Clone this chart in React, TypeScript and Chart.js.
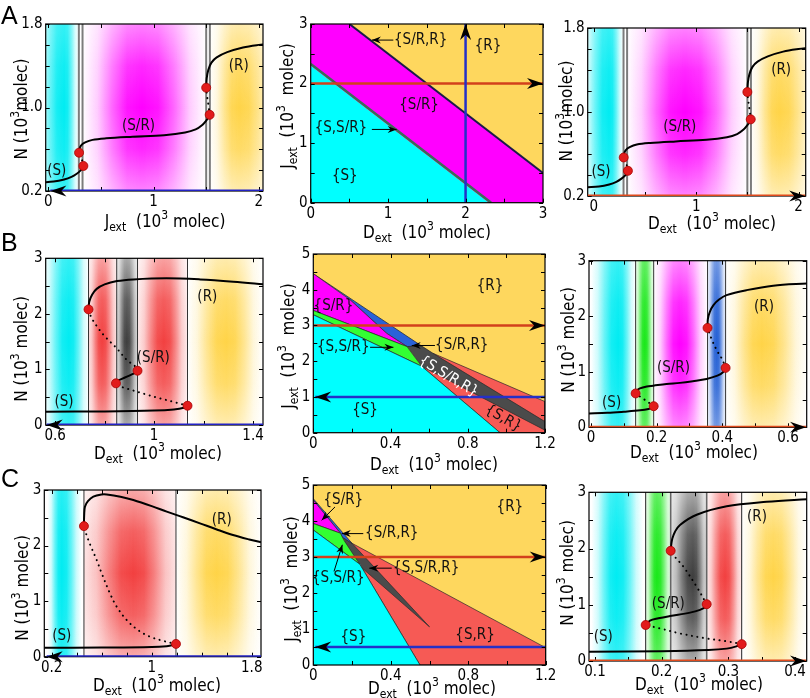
import React, { useEffect, useRef } from "react";
import { Chart, registerables } from "chart.js";
Chart.register(...registerables);

const FONT = "'DejaVu Sans Condensed', 'DejaVu Sans', sans-serif";
const W = 810, H = 698;
const Y_AXIS_W = 40, X_AXIS_H = 22;

// ---------------- Panel A (left: J sweep, right: D sweep) ----------------
const aLowerS = [[-0.06, 0.283], [0.05, 0.29], [0.15, 0.31], [0.22, 0.335], [0.27, 0.365], [0.305, 0.395], [0.325, 0.42], [0.333, 0.44]];
const aUnstable1 = [[0.333, 0.44], [0.322, 0.49], [0.302, 0.54], [0.292, 0.567]];
const aMiddleSR = [[0.292, 0.567], [0.295, 0.6], [0.31, 0.635], [0.35, 0.665], [0.42, 0.69], [0.55, 0.705], [0.8, 0.72], [1.1, 0.735], [1.3, 0.76], [1.4, 0.79], [1.46, 0.83], [1.5, 0.875], [1.525, 0.91], [1.533, 0.93]];
const aUnstable2 = [[1.533, 0.93], [1.525, 1.0], [1.51, 1.1], [1.5, 1.19]];
const aUpperR = [[1.5, 1.19], [1.505, 1.28], [1.52, 1.36], [1.55, 1.43], [1.6, 1.48], [1.7, 1.53], [1.85, 1.575], [2.0, 1.6], [2.1, 1.61]];
const aFolds = [[0.292, 0.567], [0.333, 0.44], [1.5, 1.19], [1.533, 0.93]];
const aSwitchLines = [0.29, 0.325, 1.5, 1.535];
const aLeftSweep = [[2.04, 0.2], [0.02, 0.2]];
const aRightSweep = [[-0.06, 0.2], [2.065, 0.2]];
const aTicksX = [0, 0.5, 1, 1.5, 2];
const aLabelsX = ["0", "", "1", "", "2"];
const aTicksY = [0.2, 0.4, 0.6, 0.8, 1.0, 1.2, 1.4, 1.6, 1.8];
const aLabelsY = ["0.2", "", "", "", "1.0", "", "", "", "1.8"];

// Panel A middle (phase diagram)
const amRegionR = [[0, 0], [0, 3], [3, 3], [3, 0]];
const amRegionSR = [[0, 2.3], [0, 3], [0.5, 3], [3, 0.5], [3, 0], [2.3, 0]];
const amRegionS = [[0, 0], [0, 2.3], [2.3, 0]];
const amBoundaryLow = [[0, 2.33], [2.33, 0]];
const amBoundaryHigh = [[0.5, 3], [3, 0.5]];
const amSweepD = [[0, 2], [3, 2]];
const amSweepJ = [[2, 0], [2, 3]];
const amTicks = [0, 0.5, 1, 1.5, 2, 2.5, 3];
const amLabels = ["0", "", "1", "", "2", "", "3"];

// ---------------- Panel B ----------------
const bLowerS = [[0.56, 0.24], [0.8, 0.245], [1.0, 0.26], [1.08, 0.28], [1.12, 0.31], [1.135, 0.347]];
const bUnstable1 = [[1.135, 0.347], [1.092, 0.4], [1.024, 0.48], [0.96, 0.56], [0.916, 0.62], [0.872, 0.68], [0.85, 0.71], [0.846, 0.75]];
const bMiddleSR = [[0.846, 0.75], [0.85, 0.79], [0.87, 0.83], [0.89, 0.87], [0.91, 0.91], [0.925, 0.94], [0.933, 0.977]];
const bUnstable2 = [[0.933, 0.977], [0.925, 1.05], [0.89, 1.17], [0.849, 1.38], [0.8, 1.6], [0.765, 1.8], [0.745, 1.95], [0.735, 2.08]];
const bUpperR = [[0.735, 2.08], [0.738, 2.22], [0.75, 2.35], [0.768, 2.45], [0.8, 2.53], [0.85, 2.59], [0.916, 2.62], [1.05, 2.64], [1.186, 2.62], [1.32, 2.58], [1.45, 2.53]];
const bFolds = [[0.735, 2.08], [0.846, 0.75], [0.933, 0.977], [1.135, 0.347]];
const bSwitchLines = [0.735, 0.849, 0.933, 1.135];
const bSweep = [[1.44, 0], [0.566, 0]];
const bTicksX = [0.6, 0.8, 1.0, 1.2, 1.4];
const bLabelsX = ["0.6", "", "1", "", "1.4"];
const nTicksY = [0, 0.5, 1, 1.5, 2, 2.5, 3];
const nLabelsY = ["0", "", "1", "", "2", "", "3"];

// Panel B middle
const bmRegionR = [[0, 0], [0, 5], [1.2, 5], [1.2, 0]];
const bmRegionSR_R = [[0.62, 2.22], [1.2, 0.87], [1.2, 0], [0.967, 0], [0.561, 1.86]];
const bmRegionAll = [[0.485, 2.41], [0.56, 2.43], [0.62, 2.22], [1.2, 0.31], [1.2, 0.07], [0.561, 1.86]];
const bmRegionSRR = [[0, 4.45], [0.56, 2.43], [0.485, 2.41], [0.38, 2.78], [0.19, 3.72]];
const bmRegionSRonly = [[0, 4.45], [0.19, 3.72], [0.38, 2.78], [0.485, 2.41], [0, 3.42]];
const bmRegionSSR = [[0, 3.42], [0.485, 2.41], [0.561, 1.86], [0, 3.3]];
const bmRegionS = [[0, 0], [0, 3.3], [0.561, 1.86], [0.967, 0]];
const bmSweepD = [[0, 3], [1.2, 3]];
const bmSweepJ = [[1.2, 1], [0.01, 1]];
const mTicksX = [0, 0.2, 0.4, 0.6, 0.8, 1.0, 1.2];
const mLabelsX = ["0", "", "0.4", "", "0.8", "", "1.2"];
const mTicksY = [0, 0.5, 1, 1.5, 2, 2.5, 3, 3.5, 4, 4.5, 5];
const mLabelsY = ["0", "", "1", "", "2", "", "3", "", "4", "", "5"];

// Panel B right
const brLowerS = [[-0.01, 0.25], [0.05, 0.26], [0.1, 0.28], [0.15, 0.305], [0.175, 0.33], [0.188, 0.36], [0.191, 0.38]];
const brUnstable1 = [[0.191, 0.38], [0.17, 0.47], [0.15, 0.55], [0.136, 0.61]];
const brMiddleSR = [[0.136, 0.61], [0.14, 0.66], [0.149, 0.7], [0.17, 0.735], [0.19, 0.75], [0.23, 0.78], [0.271, 0.8], [0.31, 0.83], [0.352, 0.87], [0.385, 0.93], [0.402, 0.99], [0.41, 1.07]];
const brUnstable2 = [[0.41, 1.07], [0.4, 1.22], [0.383, 1.39], [0.368, 1.58], [0.355, 1.79]];
const brUpperR = [[0.355, 1.79], [0.356, 1.95], [0.362, 2.08], [0.373, 2.2], [0.39, 2.3], [0.413, 2.38], [0.474, 2.47], [0.555, 2.55], [0.66, 2.59]];
const brFolds = [[0.136, 0.61], [0.191, 0.38], [0.355, 1.79], [0.41, 1.07]];
const brSwitchLines = [0.136, 0.191, 0.355, 0.41];
const brSweep = [[-0.006, 0], [0.655, 0]];
const brTicksX = [0, 0.1, 0.2, 0.3, 0.4, 0.5, 0.6];
const brLabelsX = ["0", "", "0.2", "", "0.4", "", "0.6"];

// ---------------- Panel C ----------------
const cLowerS = [[0.14, 0.16], [0.6, 0.165], [1.0, 0.175], [1.12, 0.19], [1.17, 0.21], [1.194, 0.23]];
const cUnstable = [[1.194, 0.23], [1.1, 0.28], [0.986, 0.36], [0.89, 0.48], [0.8, 0.66], [0.72, 0.9], [0.666, 1.14], [0.6, 1.5], [0.56, 1.74], [0.52, 1.95], [0.493, 2.1], [0.47, 2.25], [0.458, 2.35]];
const cUpperR = [[0.458, 2.35], [0.46, 2.55], [0.466, 2.7], [0.49, 2.8], [0.533, 2.88], [0.6, 2.92], [0.64, 2.92], [0.75, 2.88], [0.853, 2.82], [1.0, 2.71], [1.12, 2.61], [1.25, 2.51], [1.386, 2.4], [1.52, 2.29], [1.65, 2.19], [1.78, 2.11], [1.874, 2.06]];
const cFolds = [[0.458, 2.35], [1.194, 0.23]];
const cSwitchLines = [0.458, 1.194];
const cSweep = [[1.874, 0], [0.16, 0]];
const cTicksX = [0.2, 0.4, 0.6, 0.8, 1.0, 1.2, 1.4, 1.6, 1.8];
const cLabelsX = ["0.2", "", "", "", "1", "", "", "", "1.8"];

// Panel C middle
const cmRegionR = [[0, 0], [0, 5], [1.2, 5], [1.2, 0]];
const cmRegionSR_R = [[0.2, 3.38], [1.2, 0.48], [1.2, 0], [0.551, 0], [0.24, 2.8]];
const cmRegionAll = [[0.15, 3.55], [0.2, 3.38], [0.6, 1.06], [0.24, 2.75], [0.16, 3.45]];
const cmRegionSRR = [[0, 4.62], [0.2, 3.38], [0.15, 3.55], [0.14, 3.66], [0, 4.58]];
const cmRegionSRonly = [[0, 4.58], [0.14, 3.66], [0, 3.93]];
const cmRegionSSR = [[0, 3.93], [0.14, 3.66], [0.15, 3.55], [0.16, 3.45], [0.24, 2.8], [0, 3.75]];
const cmRegionS = [[0, 0], [0, 3.75], [0.24, 2.8], [0.551, 0]];
const cmSweepD = [[0, 3], [1.2, 3]];
const cmSweepJ = [[1.2, 0.5], [0.01, 0.5]];

// Panel C right
const crLowerS = [[0.09, 0.165], [0.2, 0.175], [0.27, 0.195], [0.2975, 0.22], [0.312, 0.26], [0.32, 0.3]];
const crUnstable1 = [[0.32, 0.3], [0.2975, 0.35], [0.2675, 0.4], [0.2275, 0.49], [0.1975, 0.58], [0.176, 0.64]];
const crMiddleSR = [[0.176, 0.64], [0.1825, 0.72], [0.195, 0.76], [0.2125, 0.8], [0.2425, 0.86], [0.2575, 0.91], [0.2655, 0.96], [0.2675, 1.01]];
const crUnstable2 = [[0.2675, 1.01], [0.2525, 1.32], [0.2325, 1.68], [0.22, 1.85], [0.2135, 1.96]];
const crUpperR = [[0.2135, 1.96], [0.2145, 2.08], [0.216, 2.18], [0.22, 2.3], [0.2275, 2.42], [0.2525, 2.6], [0.2975, 2.75], [0.3575, 2.83], [0.42, 2.88]];
const crFolds = [[0.176, 0.64], [0.2135, 1.96], [0.2675, 1.01], [0.32, 0.3]];
const crSwitchLines = [0.176, 0.2135, 0.2675, 0.32];
const crSweep = [[0.091, 0], [0.4165, 0]];
const crTicksX = [0.1, 0.15, 0.2, 0.25, 0.3, 0.35, 0.4];
const crLabelsX = ["0.1", "", "0.2", "", "0.3", "", "0.4"];

// ---------------- colours ----------------
const CYAN = [0, 236, 242], MAGENTA = [255, 0, 255], YELLOW = [255, 212, 72], RED = [242, 64, 64], GRAY = [62, 62, 62], GREEN = [25, 232, 25], BLUE = [35, 95, 212];
const F_CYAN = "#00ffff", F_MAG = "#ff00ff", F_YEL = "#fed75e", F_RED = "#f65a55", F_DARK = "#4b4b4b", F_GREEN = "#33ff33", F_BLUE = "#2a62d8";
const SWEEP_BLUE = "#2222c4", SWEEP_RED = "#e04a1c";

const P = (a: number[][]) => a.map(([x, y]) => ({ x, y }));
const solid = (a: number[][]) => ({ data: P(a), showLine: true, borderColor: "#000", borderWidth: 2, pointRadius: 0, tension: 0.35, fill: false });
const dotted = (a: number[][]) => ({ ...solid(a), borderWidth: 2, borderDash: [0.1, 5.5], borderCapStyle: "round" });
const folds = (a: number[][]) => ({ data: P(a), showLine: false, pointRadius: 4.5, pointBackgroundColor: "#e21c1c", pointBorderColor: "#a80000", pointBorderWidth: 0.8 });
const straight = (a: number[][], color: string, w: number) => ({ data: P(a), showLine: true, borderColor: color, borderWidth: w, pointRadius: 0, tension: 0, fill: false });
const region = (a: number[][], color: string, border: boolean) => ({ data: P(a), showLine: true, fill: "shape", backgroundColor: color, borderColor: border ? "#2a2a2a" : "rgba(0,0,0,0)", borderWidth: border ? 0.7 : 1, pointRadius: 0, tension: 0 });

const xt = (L: string) => [{ t: L, s: 17 }, { t: "ext", s: 12, dy: 4 }, { t: "  (10", s: 17 }, { t: "3", s: 12, dy: -8 }, { t: " molec)", s: 17 }];
const ytN = (sp: boolean) => [{ t: "N (10", s: 17 }, { t: "3", s: 12, dy: -8 }, { t: sp ? " molec)" : "molec)", s: 17 }];
const ytJ = [{ t: "J", s: 17 }, { t: "ext", s: 12, dy: 4 }, { t: "  (10", s: 17 }, { t: "3", s: 12, dy: -8 }, { t: "  molec)", s: 17 }];

// band: [x0, x1, centre, rgb, verticalFade, edgeAlpha]
const aBands = [[-0.12, 0.29, 0.15, CYAN, 0.2, 0], [0.325, 1.5, 0.89, MAGENTA, 0.5, 0], [1.535, 2.2, 1.81, YELLOW, 0.55, 0]];
const bBands = [[0.55, 0.735, 0.655, CYAN, 0.2, 0], [0.735, 0.849, 0.79, RED, 0.5, 0.15], [0.849, 0.933, 0.89, GRAY, 0.55, 0.2], [0.933, 1.135, 1.04, RED, 0.5, 0.1], [1.135, 1.44, 1.29, YELLOW, 0.55, 0]];
const brBands = [[0.0, 0.136, 0.083, CYAN, 0.2, 0], [0.136, 0.191, 0.164, GREEN, 0.3, 0.1], [0.191, 0.355, 0.271, MAGENTA, 0.5, 0], [0.355, 0.41, 0.383, BLUE, 0.35, 0.1], [0.41, 0.66, 0.52, YELLOW, 0.55, 0]];
const cBands = [[0.17, 0.44, 0.28, CYAN, 0.15, 0], [0.458, 1.194, 0.853, RED, 0.55, 0.15], [1.194, 1.874, 1.52, YELLOW, 0.55, 0]];
const crBands = [[0.095, 0.172, 0.1325, CYAN, 0.2, 0], [0.176, 0.2135, 0.193, GREEN, 0.3, 0.1], [0.2135, 0.2675, 0.247, GRAY, 0.55, 0.2], [0.2675, 0.32, 0.295, RED, 0.5, 0.1], [0.32, 0.4175, 0.3675, YELLOW, 0.55, 0]];

const vl = (xs: number[], color: string, w: number) => xs.map((x) => ({ x, color, w }));

const panels: any[] = [
  {
    plot: [45.7, 24, 263, 191],
    x: { min: -0.025, max: 2.04, ticks: aTicksX, labels: aLabelsX },
    y: { min: 0.2, max: 1.8, ticks: aTicksY, labels: aLabelsY },
    bands: aBands, vlines: vl(aSwitchLines, "#7c7c7c", 2),
    datasets: [solid(aLowerS), dotted(aUnstable1), solid(aMiddleSR), dotted(aUnstable2), solid(aUpperR), straight(aLeftSweep, SWEEP_BLUE, 3), folds(aFolds)],
    arrows: [{ at: aLeftSweep[1], dir: "left" }],
    texts: [{ t: "(S)", x: 0.08, y: 0.39 }, { t: "(S/R)", x: 0.857, y: 0.82 }, { t: "(R)", x: 1.81, y: 1.4 }],
    xTitle: { parts: xt("J"), cx: 165, by: 227 }, yTitle: { parts: ytN(false), bx: 27, cy: 109 },
    letter: { t: "A", x: 1, y: 23.5 },
  },
  {
    plot: [310.7, 24, 543, 202.7], frameOnTop: true,
    x: { min: 0, max: 3, ticks: amTicks, labels: amLabels },
    y: { min: 0, max: 3, ticks: amTicks, labels: amLabels },
    datasets: [region(amRegionR, F_YEL, false), region(amRegionSR, F_MAG, false), region(amRegionS, F_CYAN, false), straight(amBoundaryLow, "#3c6a58", 2.6), straight(amBoundaryHigh, "#1a1a4a", 2), straight(amSweepD, "#d2401c", 2.5), straight(amSweepJ, "#2430c8", 2.5)],
    arrows: [{ at: amSweepD[1], dir: "right" }, { at: amSweepJ[1], dir: "up" }],
    pointers: [{ from: [1.067, 2.73], to: [0.79, 2.73] }, { from: [0.79, 1.23], to: [1.11, 1.23] }],
    texts: [{ t: "{S/R,R}", x: 1.42, y: 2.73 }, { t: "{R}", x: 2.29, y: 2.63 }, { t: "{S/R}", x: 1.4, y: 1.64 }, { t: "{S,S/R}", x: 0.39, y: 1.25 }, { t: "{S}", x: 0.44, y: 0.44 }],
    xTitle: { parts: xt("D"), cx: 427, by: 238 }, yTitle: { parts: ytJ, bx: 293, cy: 106 },
  },
  {
    plot: [587.7, 28, 805.7, 196],
    x: { min: -0.06, max: 2.07, ticks: aTicksX, labels: aLabelsX },
    y: { min: 0.2, max: 1.8, ticks: aTicksY, labels: aLabelsY },
    bands: aBands, vlines: vl(aSwitchLines, "#7c7c7c", 2),
    datasets: [solid(aLowerS), dotted(aUnstable1), solid(aMiddleSR), dotted(aUnstable2), solid(aUpperR), straight(aRightSweep, SWEEP_RED, 3), folds(aFolds)],
    arrows: [{ at: aRightSweep[1], dir: "right" }],
    texts: [{ t: "(S)", x: 0.07, y: 0.43 }, { t: "(S/R)", x: 0.84, y: 0.86 }, { t: "(R)", x: 1.83, y: 1.4 }],
    xTitle: { parts: xt("D"), cx: 712, by: 229 }, yTitle: { parts: ytN(false), bx: 572, cy: 111 },
  },
  {
    plot: [45.7, 258.3, 263, 425],
    x: { min: 0.562, max: 1.44, ticks: bTicksX, labels: bLabelsX },
    y: { min: 0, max: 3, ticks: nTicksY, labels: nLabelsY },
    bands: bBands, vlines: vl(bSwitchLines, "#333", 1),
    datasets: [solid(bLowerS), dotted(bUnstable1), solid(bMiddleSR), dotted(bUnstable2), solid(bUpperR), straight(bSweep, SWEEP_BLUE, 3), folds(bFolds)],
    arrows: [{ at: bSweep[1], dir: "left" }],
    texts: [{ t: "(S)", x: 0.636, y: 0.42 }, { t: "(S/R)", x: 0.997, y: 1.2 }, { t: "(R)", x: 1.215, y: 2.31 }],
    xTitle: { parts: xt("D"), cx: 158, by: 459 }, yTitle: { parts: ytN(true), bx: 27, cy: 349 },
    letter: { t: "B", x: 1, y: 250.7 },
  },
  {
    plot: [313.3, 254, 545, 432.7], frameOnTop: true,
    x: { min: 0, max: 1.2, ticks: mTicksX, labels: mLabelsX },
    y: { min: 0, max: 5, ticks: mTicksY, labels: mLabelsY },
    datasets: [region(bmRegionR, F_YEL, false), region(bmRegionSR_R, F_RED, true), region(bmRegionAll, F_DARK, true), region(bmRegionSRR, F_BLUE, true), region(bmRegionSRonly, F_MAG, true), region(bmRegionSSR, F_GREEN, true), region(bmRegionS, F_CYAN, true), straight(bmSweepD, "#d2401c", 2.5), straight(bmSweepJ, "#2430c8", 2.5)],
    arrows: [{ at: bmSweepD[1], dir: "right" }, { at: bmSweepJ[1], dir: "left" }],
    pointers: [{ from: [0.294, 2.39], to: [0.415, 2.39] }, { from: [0.63, 2.44], to: [0.51, 2.44] }],
    texts: [{ t: "{R}", x: 0.915, y: 4.09 }, { t: "{S/R}", x: 0.104, y: 3.55 }, { t: "{S,S/R}", x: 0.155, y: 2.39 }, { t: "{S/R,R}", x: 0.769, y: 2.44 }, { t: "{S,S/R,R}", x: 0.7, y: 1.57, rot: 31, color: "#fff" }, { t: "{S,R}", x: 0.984, y: 0.4, rot: 30 }, { t: "{S}", x: 0.268, y: 0.64 }],
    xTitle: { parts: xt("D"), cx: 434, by: 470 }, yTitle: { parts: ytJ, bx: 294, cy: 346 },
  },
  {
    plot: [589, 260.7, 806.7, 427.3],
    x: { min: -0.006, max: 0.657, ticks: brTicksX, labels: brLabelsX },
    y: { min: 0, max: 3, ticks: nTicksY, labels: nLabelsY },
    bands: brBands, vlines: vl(brSwitchLines, "#333", 1),
    datasets: [solid(brLowerS), dotted(brUnstable1), solid(brMiddleSR), dotted(brUnstable2), solid(brUpperR), straight(brSweep, SWEEP_RED, 3), folds(brFolds)],
    arrows: [{ at: brSweep[1], dir: "right" }],
    texts: [{ t: "(S)", x: 0.063, y: 0.44 }, { t: "(S/R)", x: 0.251, y: 1.06 }, { t: "(R)", x: 0.527, y: 2.17 }],
    xTitle: { parts: xt("D"), cx: 694, by: 458 }, yTitle: { parts: ytN(true), bx: 574, cy: 340 },
  },
  {
    plot: [44.3, 490, 261, 656.7],
    x: { min: 0.141, max: 1.874, ticks: cTicksX, labels: cLabelsX },
    y: { min: 0, max: 3, ticks: nTicksY, labels: nLabelsY },
    bands: cBands, vlines: vl(cSwitchLines, "#333", 1),
    datasets: [solid(cLowerS), dotted(cUnstable), solid(cUpperR), straight(cSweep, SWEEP_BLUE, 3), folds(cFolds)],
    arrows: [{ at: cSweep[1], dir: "left" }],
    texts: [{ t: "(S)", x: 0.28, y: 0.37 }, { t: "(R)", x: 1.56, y: 2.46 }],
    xTitle: { parts: xt("D"), cx: 157, by: 691 }, yTitle: { parts: ytN(true), bx: 28, cy: 588 },
    letter: { t: "C", x: 1, y: 486.7 },
  },
  {
    plot: [313.3, 485, 545.7, 665], frameOnTop: true,
    x: { min: 0, max: 1.2, ticks: mTicksX, labels: mLabelsX },
    y: { min: 0, max: 5, ticks: mTicksY, labels: mLabelsY },
    datasets: [region(cmRegionR, F_YEL, false), region(cmRegionSR_R, F_RED, true), region(cmRegionAll, F_DARK, true), region(cmRegionSRR, F_BLUE, true), region(cmRegionSRonly, F_MAG, true), region(cmRegionSSR, F_GREEN, true), region(cmRegionS, F_CYAN, true), straight(cmSweepD, "#d2401c", 2.5), straight(cmSweepJ, "#2430c8", 2.5)],
    arrows: [{ at: cmSweepD[1], dir: "right" }, { at: cmSweepJ[1], dir: "left" }],
    pointers: [{ from: [0.112, 4.39], to: [0.043, 4.02] }, { from: [0.258, 3.65], to: [0.147, 3.65] }, { from: [0.405, 2.69], to: [0.289, 2.69] }, { from: [0.107, 2.6], to: [0.15, 3.34] }],
    texts: [{ t: "{S/R}", x: 0.155, y: 4.57 }, { t: "{R}", x: 1.015, y: 4.39 }, { t: "{S/R,R}", x: 0.405, y: 3.65 }, { t: "{S,S/R,R}", x: 0.583, y: 2.68 }, { t: "{S,S/R}", x: 0.129, y: 2.4 }, { t: "{S}", x: 0.207, y: 0.78 }, { t: "{S,R}", x: 0.835, y: 0.82 }],
    xTitle: { parts: xt("D"), cx: 432, by: 694 }, yTitle: { parts: ytJ, bx: 297, cy: 579 },
  },
  {
    plot: [589, 492.3, 806.7, 661],
    x: { min: 0.091, max: 0.4175, ticks: crTicksX, labels: crLabelsX },
    y: { min: 0, max: 3, ticks: nTicksY, labels: nLabelsY },
    bands: crBands, vlines: [{ x: crSwitchLines[0], color: "#222", w: 1 }, { x: crSwitchLines[1], color: "#666", w: 1.6 }, { x: crSwitchLines[2], color: "#666", w: 1.6 }, { x: crSwitchLines[3], color: "#222", w: 1 }],
    datasets: [solid(crLowerS), dotted(crUnstable1), solid(crMiddleSR), dotted(crUnstable2), solid(crUpperR), straight(crSweep, SWEEP_RED, 3), folds(crFolds)],
    arrows: [{ at: crSweep[1], dir: "right" }],
    texts: [{ t: "(S)", x: 0.1125, y: 0.43 }, { t: "(S/R)", x: 0.21, y: 1.01 }, { t: "(R)", x: 0.343, y: 2.56 }],
    xTitle: { parts: xt("D"), cx: 699, by: 690 }, yTitle: { parts: ytN(true), bx: 573, cy: 573 },
  },
];

const rgba = (c: number[], a: number) => `rgba(${c[0]},${c[1]},${c[2]},${Math.max(0, Math.min(1, a))})`;
const PROF = [0, 0.2, 0.6, 0.92, 1];
const TPOS = [0, 0.25, 0.5, 0.75, 1];

function drawBand(ctx: CanvasRenderingContext2D, ca: any, xs: any, b: any[]) {
  const [x0, x1, cx, rgb, vf, edge] = b;
  const p0 = xs.getPixelForValue(x0), p1 = xs.getPixelForValue(x1), pc = xs.getPixelForValue(cx);
  const fc = (pc - p0) / (p1 - p0);
  ctx.save();
  ctx.beginPath();
  ctx.rect(ca.left, ca.top, ca.right - ca.left, ca.bottom - ca.top);
  ctx.clip();
  const g = ctx.createLinearGradient(p0, 0, p1, 0);
  for (let i = 0; i < 5; i++) g.addColorStop(TPOS[i] * fc, rgba(rgb, edge + (1 - edge) * PROF[i]));
  for (let i = 3; i >= 0; i--) g.addColorStop(fc + (1 - TPOS[i]) * (1 - fc), rgba(rgb, edge + (1 - edge) * PROF[i]));
  ctx.fillStyle = g;
  ctx.fillRect(p0, ca.top, p1 - p0, ca.bottom - ca.top);
  const v = ctx.createLinearGradient(0, ca.top, 0, ca.bottom);
  v.addColorStop(0, `rgba(255,255,255,${vf})`);
  v.addColorStop(0.25, `rgba(255,255,255,${vf * 0.3})`);
  v.addColorStop(0.5, "rgba(255,255,255,0)");
  v.addColorStop(0.75, `rgba(255,255,255,${vf * 0.3})`);
  v.addColorStop(1, `rgba(255,255,255,${vf})`);
  ctx.fillStyle = v;
  ctx.fillRect(p0, ca.top, p1 - p0, ca.bottom - ca.top);
  ctx.restore();
}

function arrowHead(ctx: CanvasRenderingContext2D, x: number, y: number, ang: number, len: number, hw: number) {
  ctx.save();
  ctx.translate(x, y);
  ctx.rotate(ang);
  ctx.beginPath();
  ctx.moveTo(0, 0);
  ctx.lineTo(-len, -hw);
  ctx.lineTo(-len * 0.68, 0);
  ctx.lineTo(-len, hw);
  ctx.closePath();
  ctx.fillStyle = "#000";
  ctx.fill();
  ctx.restore();
}

function drawRich(ctx: CanvasRenderingContext2D, parts: any[], x: number, y: number, rot: number) {
  ctx.save();
  ctx.translate(x, y);
  ctx.rotate(rot);
  ctx.fillStyle = "#000";
  ctx.textBaseline = "alphabetic";
  ctx.textAlign = "left";
  let total = 0;
  for (const p of parts) { ctx.font = `${p.s}px ${FONT}`; total += ctx.measureText(p.t).width; }
  let cx = -total / 2;
  for (const p of parts) { ctx.font = `${p.s}px ${FONT}`; ctx.fillText(p.t, cx, p.dy || 0); cx += ctx.measureText(p.t).width; }
  ctx.restore();
}

function drawFrame(ctx: CanvasRenderingContext2D, ca: any, xs: any, ys: any, s: any) {
  ctx.save();
  ctx.setLineDash([]);
  ctx.strokeStyle = "#000";
  ctx.lineWidth = 1;
  ctx.beginPath();
  for (const v of s.x.ticks) {
    const px = Math.round(xs.getPixelForValue(v)) + 0.5;
    ctx.moveTo(px, ca.bottom); ctx.lineTo(px, ca.bottom - 4);
    ctx.moveTo(px, ca.top); ctx.lineTo(px, ca.top + 4);
  }
  for (const v of s.y.ticks) {
    const py = Math.round(ys.getPixelForValue(v)) + 0.5;
    ctx.moveTo(ca.left, py); ctx.lineTo(ca.left + 4, py);
    ctx.moveTo(ca.right, py); ctx.lineTo(ca.right - 4, py);
  }
  ctx.stroke();
  ctx.lineWidth = 1.2;
  ctx.strokeRect(ca.left, ca.top, ca.right - ca.left, ca.bottom - ca.top);
  ctx.restore();
}

function makeDeco(s: any) {
  return {
    id: "deco",
    beforeDatasetsDraw(chart: any) {
      const { ctx, chartArea: ca } = chart;
      const xs = chart.scales.x, ys = chart.scales.y;
      for (const b of s.bands || []) drawBand(ctx, ca, xs, b);
      ctx.save();
      for (const l of s.vlines || []) {
        const px = xs.getPixelForValue(l.x);
        ctx.strokeStyle = l.color;
        ctx.lineWidth = l.w;
        ctx.beginPath();
        ctx.moveTo(px, ca.top);
        ctx.lineTo(px, ca.bottom);
        ctx.stroke();
      }
      ctx.restore();
      if (!s.frameOnTop) drawFrame(ctx, ca, xs, ys, s);
    },
    afterDatasetsDraw(chart: any) {
      const { ctx, chartArea: ca } = chart;
      const xs = chart.scales.x, ys = chart.scales.y;
      if (s.frameOnTop) drawFrame(ctx, ca, xs, ys, s);
      const dirs: any = { left: Math.PI, right: 0, up: -Math.PI / 2 };
      for (const a of s.arrows || []) {
        arrowHead(ctx, xs.getPixelForValue(a.at[0]), ys.getPixelForValue(a.at[1]), dirs[a.dir], 16, 5.5);
      }
      for (const p of s.pointers || []) {
        const x0 = xs.getPixelForValue(p.from[0]), y0 = ys.getPixelForValue(p.from[1]);
        const x1 = xs.getPixelForValue(p.to[0]), y1 = ys.getPixelForValue(p.to[1]);
        ctx.save();
        ctx.strokeStyle = "#000";
        ctx.lineWidth = 1;
        ctx.beginPath();
        ctx.moveTo(x0, y0);
        ctx.lineTo(x1, y1);
        ctx.stroke();
        ctx.restore();
        arrowHead(ctx, x1, y1, Math.atan2(y1 - y0, x1 - x0), 9, 3.5);
      }
      for (const t of s.texts || []) {
        ctx.save();
        ctx.translate(xs.getPixelForValue(t.x), ys.getPixelForValue(t.y));
        ctx.rotate(((t.rot || 0) * Math.PI) / 180);
        ctx.font = `15px ${FONT}`;
        ctx.fillStyle = t.color || "#111";
        ctx.textAlign = "center";
        ctx.textBaseline = "middle";
        ctx.fillText(t.t, 0, 0);
        ctx.restore();
      }
      if (s.xTitle) drawRich(ctx, s.xTitle.parts, s.xTitle.cx, s.xTitle.by, 0);
      if (s.yTitle) drawRich(ctx, s.yTitle.parts, s.yTitle.bx, s.yTitle.cy, -Math.PI / 2);
      if (s.letter) {
        ctx.save();
        ctx.font = "25px 'Liberation Sans', Arial, sans-serif";
        ctx.fillStyle = "#000";
        ctx.textAlign = "left";
        ctx.textBaseline = "alphabetic";
        ctx.fillText(s.letter.t, s.letter.x, s.letter.y);
        ctx.restore();
      }
    },
  };
}

function axisOpts(a: any, axis: "x" | "y") {
  return {
    type: "linear",
    position: axis === "x" ? "bottom" : "left",
    min: a.min,
    max: a.max,
    grid: { display: false, drawTicks: false },
    border: { display: false },
    afterFit: (sc: any) => { if (axis === "x") sc.height = X_AXIS_H; else sc.width = Y_AXIS_W; },
    afterBuildTicks: (sc: any) => { sc.ticks = a.ticks.map((v: number) => ({ value: v })); },
    ticks: {
      autoSkip: false,
      maxRotation: 0,
      padding: axis === "x" ? 2 : 3,
      color: "#000",
      font: { family: FONT, size: 15 },
      callback: (_v: any, i: number) => a.labels[i] ?? "",
    },
  };
}

function buildConfig(s: any): any {
  const [L, T, R, B] = s.plot;
  const n = s.datasets.length;
  const datasets = s.datasets.map((d: any, i: number) => ({ ...d, order: n - i }));
  return {
    type: "scatter",
    data: { datasets },
    options: {
      animation: false,
      responsive: false,
      events: [],
      layout: { autoPadding: false, padding: { left: L - Y_AXIS_W, top: T, right: W - R, bottom: H - B - X_AXIS_H } },
      plugins: { legend: { display: false }, tooltip: { enabled: false } },
      scales: { x: axisOpts(s.x, "x"), y: axisOpts(s.y, "y") },
    },
    plugins: [makeDeco(s)],
  };
}

function Panel({ spec }: { spec: any }) {
  const ref = useRef<HTMLCanvasElement>(null);
  useEffect(() => {
    const chart = new Chart(ref.current as HTMLCanvasElement, buildConfig(spec));
    return () => chart.destroy();
  }, [spec]);
  return <canvas ref={ref} width={W} height={H} style={{ position: "absolute", left: 0, top: 0, width: W, height: H }} />;
}

export default function App() {
  return (
    <div style={{ position: "absolute", left: 0, top: 0, width: W, height: H, background: "#fff", overflow: "hidden" }}>
      {panels.map((p, i) => (
        <Panel key={i} spec={p} />
      ))}
    </div>
  );
}
